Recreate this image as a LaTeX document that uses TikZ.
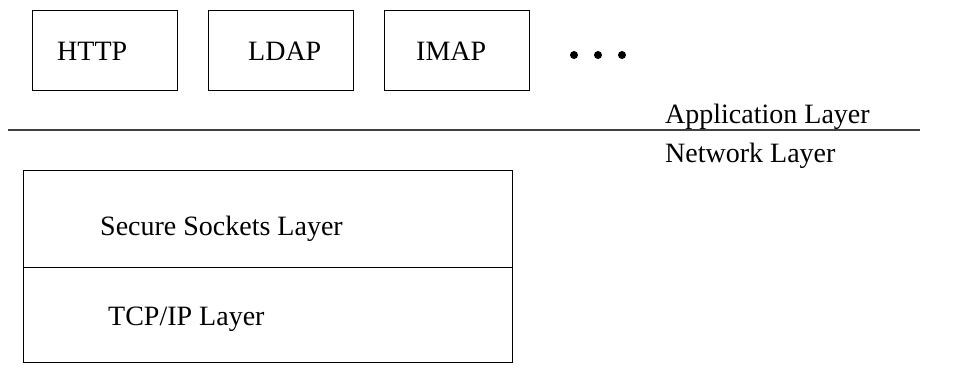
\documentclass[tikz,border=0pt]{standalone}
\usepackage{fontspec}
\setmainfont{Liberation Serif}
\begin{document}
\begin{tikzpicture}[x=1pt,y=-1pt,
  proto/.style={draw=black,line width=1.4pt,minimum width=145pt,minimum height=80pt,inner sep=0pt,anchor=north west},
  layerbox/.style={draw=black,line width=1.4pt,minimum width=489pt,inner sep=0pt,anchor=north west},
  lbl/.style={anchor=base west,inner sep=0pt,font=\fontsize{28}{30}\selectfont},
  dot/.style={circle,fill=black,inner sep=0pt,minimum size=8pt}]
\useasboundingbox (0,0) rectangle (976,367);
% protocol boxes
\node[proto] (http) at (32,10) {};
\node[proto] (ldap) at (208,10) {};
\node[proto] (imap) at (384,10) {};
\node[lbl] (thttp) at (57,60) {HTTP};
\node[lbl] (tldap) at (248,60) {LDAP};
\node[lbl] (timap) at (416,60) {IMAP};
% dots
\node[dot] (d1) at (574,55) {};
\node[dot] (d2) at (598,55) {};
\node[dot] (d3) at (622,55) {};
% separator line
\coordinate (sepL) at (8,130);
\coordinate (sepR) at (920,130);
\draw[line width=2pt,black!75] (sepL) -- (sepR);
\node[lbl] (app) at (665,123) {Application Layer};
\node[lbl] (net) at (665,162) {Network Layer};
% lower stack
\node[layerbox,minimum height=97pt] (ssl) at (23,170) {};
\node[layerbox,minimum height=95pt] (tcp) at (23,267) {};
\node[lbl] (tssl) at (100,235) {Secure Sockets Layer};
\node[lbl] (ttcp) at (108,325) {TCP/IP Layer};
\end{tikzpicture}
\end{document}
